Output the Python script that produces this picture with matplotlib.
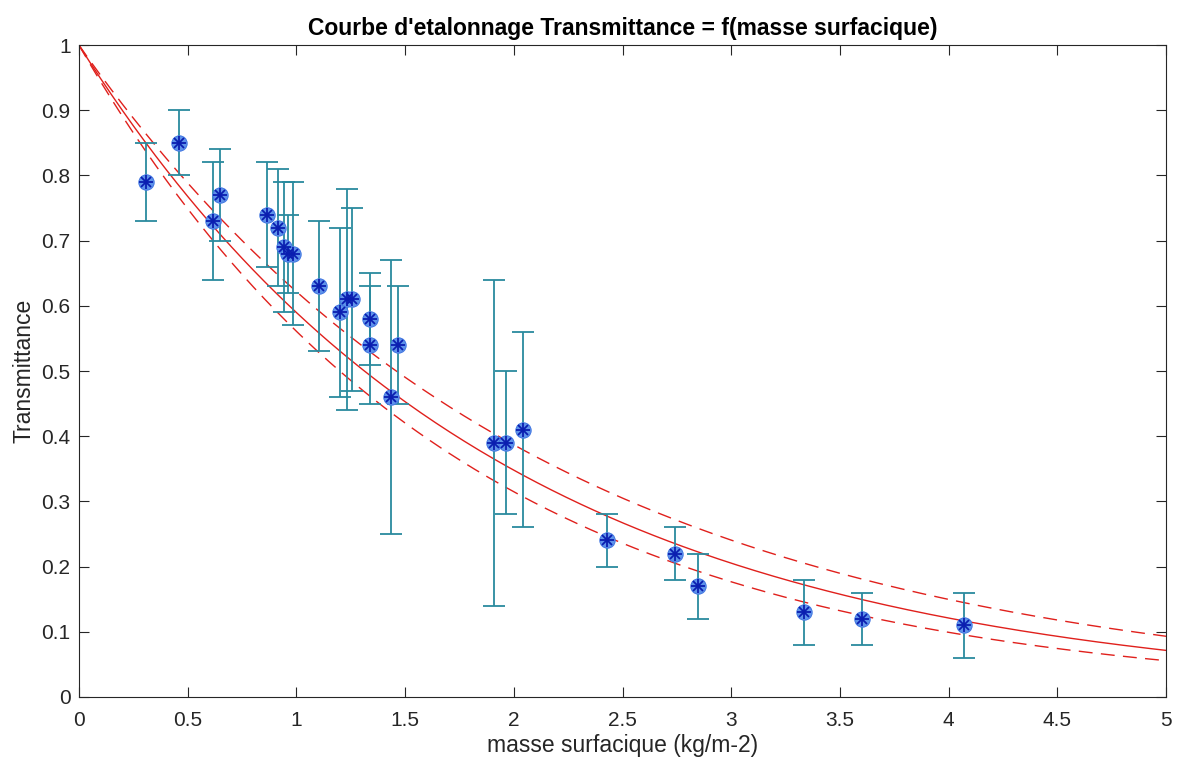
import numpy as np
import matplotlib.pyplot as plt

plt.rcParams['font.family'] = ['Liberation Sans', 'DejaVu Sans']

# mesures (masse surfacique en kg/m-2, transmittance)
masse = [0.307, 0.46, 0.618, 0.649, 0.866, 0.917, 0.943, 0.963, 0.986,
         1.105, 1.20, 1.231, 1.254, 1.339, 1.339, 1.434, 1.469,
         1.911, 1.964, 2.044, 2.43, 2.741, 2.847, 3.336, 3.60, 4.068]
trans = [0.79, 0.85, 0.73, 0.77, 0.74, 0.72, 0.69, 0.68, 0.68,
         0.63, 0.59, 0.61, 0.61, 0.58, 0.54, 0.46, 0.54,
         0.39, 0.39, 0.41, 0.24, 0.22, 0.17, 0.13, 0.12, 0.11]
trans_min = [0.73, 0.80, 0.64, 0.70, 0.66, 0.63, 0.59, 0.62, 0.57,
             0.53, 0.46, 0.44, 0.47, 0.51, 0.45, 0.25, 0.45,
             0.14, 0.28, 0.26, 0.20, 0.18, 0.12, 0.08, 0.08, 0.06]
trans_max = [0.85, 0.90, 0.82, 0.84, 0.82, 0.81, 0.79, 0.74, 0.79,
             0.73, 0.72, 0.78, 0.75, 0.65, 0.63, 0.67, 0.63,
             0.64, 0.50, 0.56, 0.28, 0.26, 0.22, 0.18, 0.16, 0.16]

# ajustement T = exp(-k * m) et bornes
k_fit = 0.528
k_haut = 0.475
k_bas = 0.578

x = np.array(masse)
y = np.array(trans)
err = [y - np.array(trans_min), np.array(trans_max) - y]

fig = plt.figure(figsize=(11.78, 7.65), dpi=100)
ax = fig.add_axes([0.067, 0.089, 0.923, 0.852])

m = np.linspace(0, 5, 300)
ax.plot(m, np.exp(-k_fit * m), color='#e0201c', lw=1.0)
ax.plot(m, np.exp(-k_haut * m), color='#e0201c', lw=1.0, ls=(0, (10, 6)))
ax.plot(m, np.exp(-k_bas * m), color='#e0201c', lw=1.0, ls=(0, (10, 6)))

ax.errorbar(x, y, yerr=err, fmt='none', ecolor='#2a8a9e', elinewidth=1.3,
            capsize=8, capthick=1.3)
ax.plot(x, y, 'o', ms=11, mfc='#5f93ea', mec='#4479e2', mew=0.8, ls='none')
ax.plot(x, y, '+', ms=10, color='#0a1eb0', mew=1.3, ls='none')
ax.plot(x, y, 'x', ms=7.5, color='#0a1eb0', mew=1.3, ls='none')

ax.set_xlim(0, 5)
ax.set_ylim(0, 1)
ax.set_xticks(np.arange(0, 5.01, 0.5))
ax.set_xticklabels(['0', '0.5', '1', '1.5', '2', '2.5', '3', '3.5', '4', '4.5', '5'])
ax.set_yticks(np.arange(0, 1.01, 0.1))
ax.set_yticklabels(['0', '0.1', '0.2', '0.3', '0.4', '0.5', '0.6', '0.7', '0.8', '0.9', '1'])
ax.tick_params(direction='in', top=True, right=True, length=7, width=0.8,
               labelsize=15, colors='#262626')
ax.tick_params(axis='x', pad=10)
ax.tick_params(axis='y', pad=6)
for s in ax.spines.values():
    s.set_color('#262626')
    s.set_linewidth(0.8)

ax.set_xlabel('masse surfacique (kg/m-2)', fontsize=16.5, color='#262626', labelpad=3)
ax.set_ylabel('Transmittance', fontsize=16.5, color='#262626', labelpad=4)
ax.set_title("Courbe d'etalonnage Transmittance = f(masse surfacique)",
             fontsize=16.5, fontweight='bold', pad=7)

plt.savefig('out.png')
plt.close()
